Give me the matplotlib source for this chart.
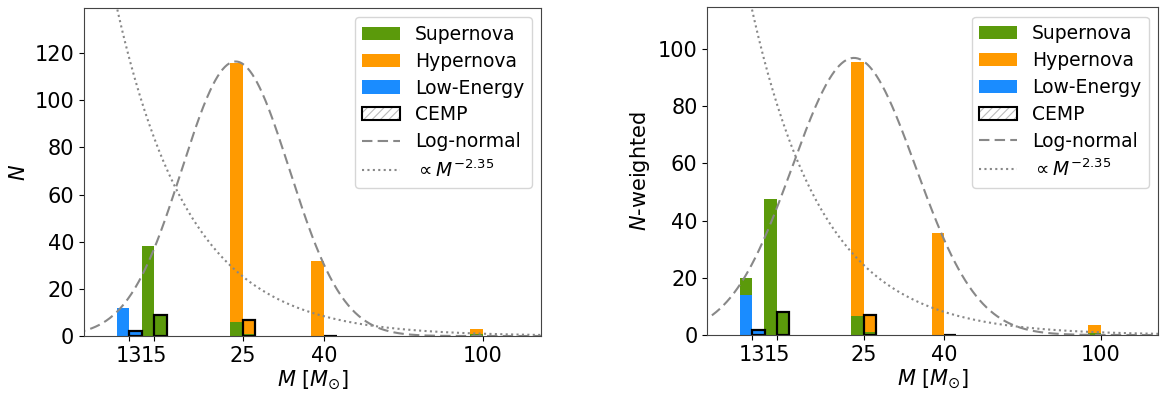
import numpy as np
import matplotlib
matplotlib.use("Agg")
import matplotlib.pyplot as plt
from matplotlib.patches import Patch
from matplotlib.lines import Line2D
from matplotlib.legend_handler import HandlerTuple
from matplotlib.ticker import FixedLocator, FixedFormatter, NullLocator

# Progenitor masses (M_sun)
masses = [13, 15, 25, 40, 100]
mass_ticks = [13, 15, 25, 40, 100]

# Counts per explosion type (left panel)
n_low_energy = [12, 0, 0, 0, 0]
n_supernova = [0, 38, 6, 0, 1]
n_hypernova = [0, 0, 110, 32, 2]
# CEMP subset
n_cemp_low_energy = [2, 0, 0, 0, 0]
n_cemp_supernova = [0, 9, 1, 0, 0]
n_cemp_hypernova = [0, 0, 6, 0, 0]

# Weighted counts (right panel)
w_low_energy = [14, 0, 0, 0, 0]
w_supernova = [6, 47.5, 6.5, 0, 0.7]
w_hypernova = [0, 0, 89, 35.7, 2.8]
w_cemp_low_energy = [1.8, 0, 0, 0, 0]
w_cemp_supernova = [0, 7.9, 1, 0, 0]
w_cemp_hypernova = [0, 0, 6, 0, 0]

# Model curves: log-normal (peak, centre, sigma in dex) and Salpeter-like power law
lognormal_left = (116.5, 24.0, 0.135)
lognormal_right = (96.9, 23.6, 0.157)
powerlaw_left = 48750.0
powerlaw_right = 47150.0
salpeter_slope = -2.35

C_SN = "#5b9a0b"
C_HN = "#ff9a00"
C_LE = "#1a8cff"
C_CURVE = "#888888"

plt.rcParams["font.size"] = 15
plt.rcParams["hatch.linewidth"] = 0.8

fig = plt.figure(figsize=(11.65, 3.94), dpi=100)
ax1 = fig.add_axes([0.0721, 0.1472, 0.3923, 0.8325])
ax2 = fig.add_axes([0.6071, 0.1497, 0.3869, 0.8318])

DEX = 0.0316  # bar width in dex


def draw_panel(ax, le, sn, hn, cle, csn, chn, lognorm, plaw, ylabel):
    m = np.array(masses, dtype=float)
    left = m * 10 ** (-DEX)
    wl = m - left
    wr = m * 10 ** DEX - m
    le, sn, hn = map(np.array, (le, sn, hn))
    cle, csn, chn = map(np.array, (cle, csn, chn))

    ax.bar(left, le, width=wl, align="edge", color=C_LE, lw=0)
    ax.bar(left, sn, width=wl, bottom=le, align="edge", color=C_SN, lw=0)
    ax.bar(left, hn, width=wl, bottom=le + sn, align="edge", color=C_HN, lw=0)

    # CEMP stacks with outline
    ax.bar(m, cle, width=wr, align="edge", color=C_LE, lw=0)
    ax.bar(m, csn, width=wr, bottom=cle, align="edge", color=C_SN, lw=0)
    ax.bar(m, chn, width=wr, bottom=cle + csn, align="edge", color=C_HN, lw=0)
    tot = cle + csn + chn
    show = np.array([True, True, True, True, False])
    ax.bar(m[show], tot[show], width=wr[show], align="edge", facecolor="none",
           edgecolor="black", lw=1.6)

    grid = np.logspace(np.log10(9.5), np.log10(150), 400)
    amp, cen, sig = lognorm
    ax.plot(grid, amp * np.exp(-(np.log10(grid / cen)) ** 2 / (2 * sig ** 2)),
            ls=(0, (5, 2.5)), color=C_CURVE, lw=1.5)
    ax.plot(grid, plaw * grid ** salpeter_slope, ls=(0, (1, 1.6)),
            color=C_CURVE, lw=1.5)

    ax.set_xscale("log")
    ax.set_xlim(10, 140)
    ax.xaxis.set_major_locator(FixedLocator(mass_ticks))
    ax.xaxis.set_major_formatter(FixedFormatter([str(t) for t in mass_ticks]))
    ax.xaxis.set_minor_locator(NullLocator())
    top = 1.2 * np.max(le + sn + hn)
    ax.set_ylim(0, top)
    ax.set_xlabel(r"$M$ [$M_{\odot}$]", labelpad=2)
    ax.set_ylabel(ylabel, labelpad=4)
    ax.tick_params(labelsize=15)
    for s in ax.spines.values():
        s.set_color("#444444")

    handles = [
        Patch(facecolor=C_SN, edgecolor="none"),
        Patch(facecolor=C_HN, edgecolor="none"),
        Patch(facecolor=C_LE, edgecolor="none"),
        (Patch(facecolor="white", edgecolor="#bbbbbb", hatch="////", lw=0),
         Patch(facecolor="none", edgecolor="black", lw=1.5)),
        Line2D([], [], ls=(0, (5, 2.5)), color=C_CURVE, lw=1.5),
        Line2D([], [], ls=(0, (1, 1.6)), color=C_CURVE, lw=1.5),
    ]
    labels = ["Supernova", "Hypernova", "Low-Energy", "CEMP", "Log-normal",
              r"$\propto M^{-2.35}$"]
    ax.legend(handles, labels, loc="upper right", fontsize=13.5,
              handler_map={tuple: HandlerTuple(ndivide=1, pad=0)},
              labelspacing=0.42)


draw_panel(ax1, n_low_energy, n_supernova, n_hypernova,
           n_cemp_low_energy, n_cemp_supernova, n_cemp_hypernova,
           lognormal_left, powerlaw_left, r"$N$")
draw_panel(ax2, w_low_energy, w_supernova, w_hypernova,
           w_cemp_low_energy, w_cemp_supernova, w_cemp_hypernova,
           lognormal_right, powerlaw_right, r"$N$-weighted")

fig.savefig("out.png", dpi=100)
